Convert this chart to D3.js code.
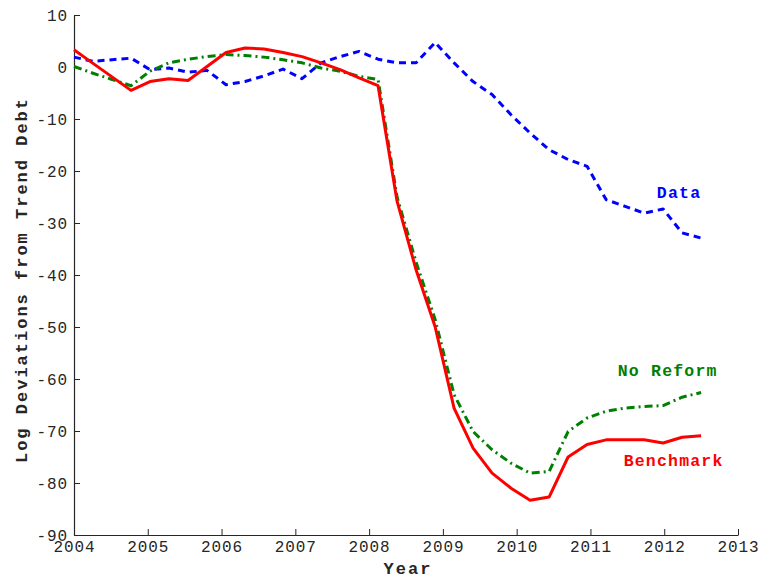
<!DOCTYPE html>
<html>
<head>
<meta charset="utf-8">
<script src="https://cdn.jsdelivr.net/npm/d3@7"></script>
<style>
  html, body { margin: 0; padding: 0; background: #fff; }
  svg { display: block; }
  .tick text { font-family: "Liberation Mono", "Courier New", monospace; font-size: 16px; letter-spacing: 0.9px; fill: #262626; }
  .axis-title { font-family: "Liberation Mono", "Courier New", monospace; font-size: 17px; letter-spacing: 2px; font-weight: bold; fill: #262626; }
  .series-label { font-family: "Liberation Mono", "Courier New", monospace; font-size: 16.5px; letter-spacing: 1.2px; font-weight: bold; }
</style>
</head>
<body>
<svg id="chart" width="760" height="579"></svg>
<script>
// Quarterly observations, 2004 through mid-2012 (34 evenly spaced periods)
const periodCount = 34;
const firstYear = 2004;
const lastYear = 2012.5;

// Log deviations from trend debt (percent)
const dataSeries = [
  1.9, 1.1, 1.4, 1.7, -0.5, -0.2, -1.0, -0.65, -3.4, -2.8,
  -1.7, -0.4, -2.25, 0.8, 2.0, 3.0, 1.5, 0.8, 0.8, 4.7,
  0.8, -2.8, -5.3, -9.2, -12.7, -15.9, -17.8, -19.1, -25.5, -26.8,
  -28.1, -27.3, -31.9, -32.9
];
const noReformSeries = [
  0.1, -1.2, -2.4, -3.6, -0.8, 0.8, 1.5, 2.0, 2.4, 2.2,
  1.9, 1.4, 0.8, -0.2, -0.8, -1.8, -2.4, -25.0, -37.5, -48.5,
  -63.0, -70.1, -73.6, -76.2, -78.1, -77.8, -70.1, -67.5, -66.2, -65.6,
  -65.3, -65.1, -63.5, -62.6
];
const benchmarkSeries = [
  3.3, 0.7, -1.9, -4.5, -2.8, -2.25, -2.6, 0.1, 2.8, 3.65,
  3.45, 2.8, 2.0, 0.8, -0.5, -2.1, -3.6, -25.8, -39.0, -49.9,
  -65.6, -73.3, -78.1, -81.0, -83.3, -82.7, -75.0, -72.6, -71.7, -71.7,
  -71.7, -72.3, -71.2, -70.9
];

const xTicks = [2004, 2005, 2006, 2007, 2008, 2009, 2010, 2011, 2012, 2013];
const yTicks = [10, 0, -10, -20, -30, -40, -50, -60, -70, -80, -90];

const series = [
  { name: "Data", values: dataSeries, color: "#0000ff", dash: "7,5", label: { x: 2011.9, y: -25.1 } },
  { name: "No Reform", values: noReformSeries, color: "#008000", dash: "8,4,2,4", label: { x: 2011.37, y: -59.5 } },
  { name: "Benchmark", values: benchmarkSeries, color: "#ff0000", dash: null, label: { x: 2011.45, y: -76.8 } }
];

const margin = { top: 15, right: 22, bottom: 44, left: 74 };
const width = 760, height = 579;
const svg = d3.select("#chart");

const years = d3.range(periodCount).map(i => firstYear + i * (lastYear - firstYear) / (periodCount - 1));

const x = d3.scaleLinear().domain([2004, 2013]).range([margin.left, width - margin.right]);
const y = d3.scaleLinear().domain([-90, 10]).range([height - margin.bottom, margin.top]);

// Axes with inward-pointing ticks
const xAxis = d3.axisBottom(x).tickValues(xTicks).tickFormat(d3.format("d"))
  .tickSizeInner(-6).tickSizeOuter(0).tickPadding(6);
const yAxis = d3.axisLeft(y).tickValues(yTicks).tickFormat(d => d < 0 ? "-" + Math.abs(d) : String(d))
  .tickSizeInner(-6).tickSizeOuter(0).tickPadding(6);

const gx = svg.append("g").attr("transform", `translate(0,${height - margin.bottom})`).call(xAxis);
const gy = svg.append("g").attr("transform", `translate(${margin.left},0)`).call(yAxis);
[gx, gy].forEach(g => {
  g.select(".domain").attr("stroke", "#262626").attr("stroke-width", 1.2);
  g.selectAll(".tick line").attr("stroke", "#262626").attr("stroke-width", 1);
});

// Lines
const line = d3.line().x((d, i) => x(years[i])).y(d => y(d));
series.forEach(s => {
  svg.append("path")
    .datum(s.values)
    .attr("fill", "none")
    .attr("stroke", s.color)
    .attr("stroke-width", 3)
    .attr("stroke-linejoin", "round")
    .attr("stroke-dasharray", s.dash)
    .attr("d", line);
});

// In-plot series labels
series.forEach(s => {
  svg.append("text")
    .attr("class", "series-label")
    .attr("x", x(s.label.x))
    .attr("y", y(s.label.y))
    .attr("fill", s.color)
    .text(s.name);
});

// Axis titles
svg.append("text")
  .attr("class", "axis-title")
  .attr("x", (margin.left + width - margin.right) / 2 + 2)
  .attr("y", 574)
  .attr("text-anchor", "middle")
  .text("Year");

svg.append("text")
  .attr("class", "axis-title")
  .attr("transform", `translate(27,${(margin.top + height - margin.bottom) / 2 + 5}) rotate(-90)`)
  .attr("text-anchor", "middle")
  .text("Log Deviations from Trend Debt");
</script>
</body>
</html>
